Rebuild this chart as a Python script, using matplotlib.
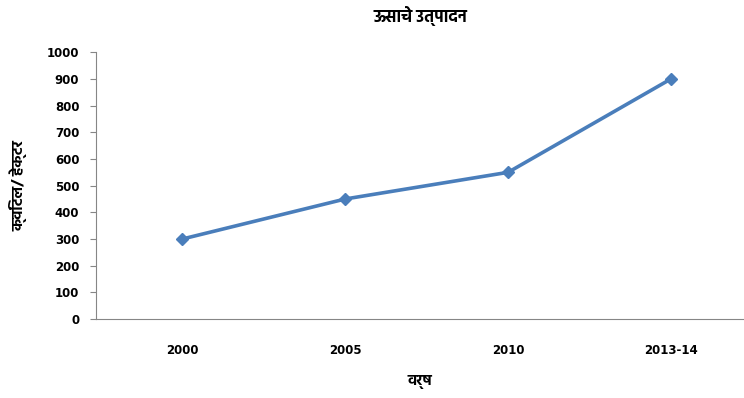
import matplotlib
matplotlib.use("Agg")
import matplotlib.pyplot as plt

years = ["2000", "2005", "2010", "2013-14"]
production = [300, 450, 550, 900]
title = "ऊसाचे उत्पादन"
ylabel = "क्विंटल/ हेक्टर"
xlabel = "वर्ष"

plt.rcParams["font.family"] = ["DejaVu Sans"]
deva = ["Hind", "DejaVu Sans"]

fig = plt.figure(figsize=(7.44, 3.98), dpi=100)
ax = fig.add_axes([0.129, 0.198, 0.871, 0.671])

x = list(range(len(years)))
ax.plot(x, production, color="#4a7ebb", lw=2.6, marker="D", ms=6)

ax.set_xlim(-0.528, 3.447)
ax.set_ylim(0, 1000)
ax.set_yticks(range(0, 1001, 100))
ax.set_xticks(x)
ax.set_xticklabels(years, fontsize=8.5, fontweight="bold")
for t in ax.get_yticklabels():
    t.set_fontsize(8.5)
    t.set_fontweight("bold")

for s in ["top", "right"]:
    ax.spines[s].set_visible(False)
ax.spines["left"].set_color("#868686")
ax.spines["bottom"].set_color("#868686")
ax.tick_params(axis="y", length=4, color="#868686", pad=8)
ax.tick_params(axis="x", length=0, pad=18)

ax.set_title(title, fontsize=12, fontweight="bold", family=deva, pad=22)
ax.set_ylabel(ylabel, fontsize=11, fontweight="bold", family=deva, labelpad=14)
ax.set_xlabel(xlabel, fontsize=11, fontweight="bold", family=deva, labelpad=13)

fig.savefig("out.png", dpi=100)
